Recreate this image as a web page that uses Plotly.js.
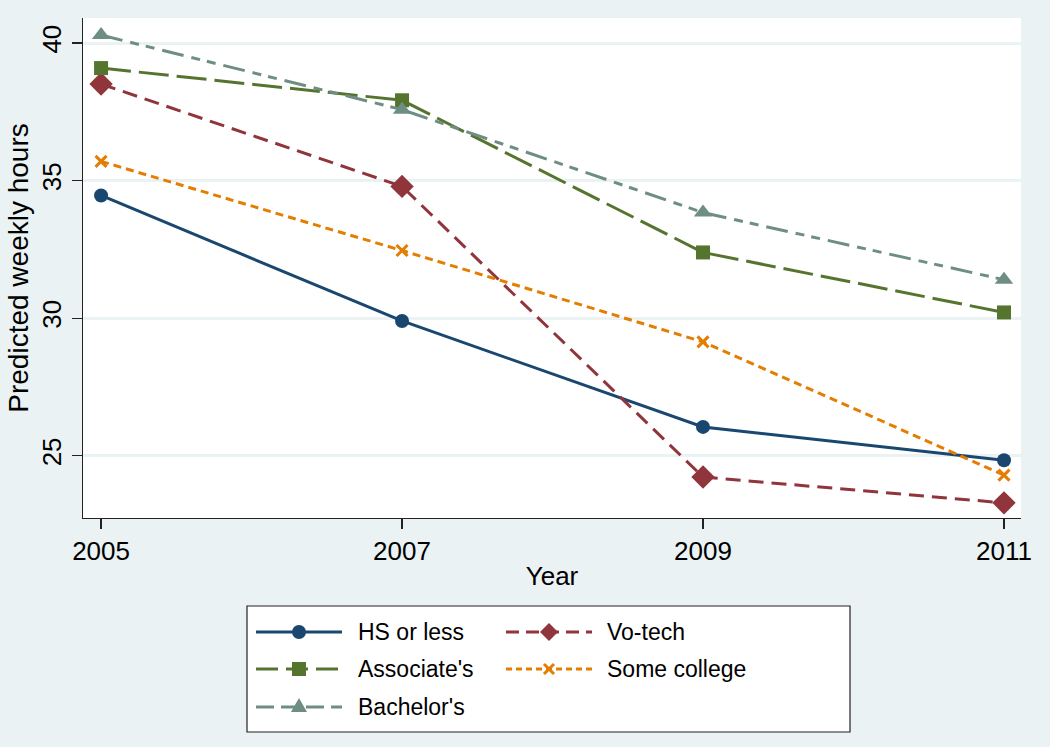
<!DOCTYPE html>
<html>
<head>
<meta charset="utf-8">
<script src="https://cdn.plot.ly/plotly-3.0.1.min.js"></script>
<style>html,body{margin:0;padding:0;background:#EAF2F3;}#chart{width:1050px;height:747px;}</style>
</head>
<body>
<div id="chart"></div>
<script>
const years = [2005, 2007, 2009, 2011];
const seriesNames = ["HS or less", "Vo-tech", "Associate's", "Some college", "Bachelor's"];
const hsOrLess = [34.46, 29.90, 26.05, 24.84];
const voTech = [38.51, 34.79, 24.23, 23.29];
const associates = [39.09, 37.92, 32.39, 30.21];
const someCollege = [35.70, 32.46, 29.14, 24.30];
const bachelors = [40.29, 37.58, 33.84, 31.40];
const yTicks = [25, 30, 35, 40];

const colors = ["#1a476f", "#90353b", "#55752f", "#e37e00", "#6e8e84"];
const dashes = ["solid", "15px,8px", "30px,8px", "8px,5px", "22px,8px,9px,7px,9px,8px"];
const values = [hsOrLess, voTech, associates, someCollege, bachelors];
const symbols = ["circle", "diamond", "square", "x-thin", "triangle-up"];
const sizes = [14, 18, 14, 11, 16];

const traces = values.map((v, i) => ({
  x: years, y: v, type: "scatter", mode: "lines+markers", name: seriesNames[i],
  showlegend: false,
  line: {color: colors[i], width: 3, dash: dashes[i]},
  marker: symbols[i] === "x-thin"
    ? {symbol: "x-thin", size: sizes[i], color: colors[i], line: {color: colors[i], width: 3}}
    : {symbol: symbols[i], size: sizes[i], color: colors[i], line: {width: 0}}
}));

// plot area geometry (pixels)
const L = 83, R = 29, T = 18, B = 229, W = 1050, H = 747;
const PW = W - L - R, PH = H - T - B;
const px = x => (x - L) / PW;
const py = y => (H - B - y) / PH;

const shapes = [];
const annotations = [];
// legend box
shapes.push({type: "rect", xref: "paper", yref: "paper", x0: px(247), x1: px(850), y0: py(606), y1: py(732),
  fillcolor: "white", line: {color: "#222", width: 1.2}, layer: "above"});
const legendPos = [
  {row: 632, lx0: 256, lx1: 342, mx: 299, tx: 356},
  {row: 632, lx0: 506, lx1: 592, mx: 549, tx: 605},
  {row: 669, lx0: 256, lx1: 342, mx: 299, tx: 356},
  {row: 669, lx0: 506, lx1: 592, mx: 549, tx: 605},
  {row: 707, lx0: 256, lx1: 342, mx: 299, tx: 356}
];
const legendDashes = ["solid", "13px,7px", "22px,8px", "6px,4px", "18px,7px"];
const markerPaths = {
  "square": "M-7,-7L7,-7L7,7L-7,7Z",
  "diamond": "M0,-9L9,0L0,9L-9,0Z",
  "triangle-up": "M-8,-5L8,-5L0,9Z",
  "x-thin": "M-5,-5L5,5M-5,5L5,-5"
};
values.forEach((v, i) => {
  const p = legendPos[i];
  shapes.push({type: "line", xref: "paper", yref: "paper", x0: px(p.lx0), x1: px(p.lx1), y0: py(p.row), y1: py(p.row),
    line: {color: colors[i], width: 3, dash: legendDashes[i]}, layer: "above"});
  const sym = symbols[i];
  if (sym === "circle") {
    shapes.push({type: "circle", xref: "paper", yref: "paper", xsizemode: "pixel", ysizemode: "pixel",
      xanchor: px(p.mx), yanchor: py(p.row), x0: -7, x1: 7, y0: -7, y1: 7,
      fillcolor: colors[i], line: {width: 0}, layer: "above"});
  } else if (sym === "x-thin") {
    shapes.push({type: "path", xref: "paper", yref: "paper", xsizemode: "pixel", ysizemode: "pixel",
      xanchor: px(p.mx), yanchor: py(p.row), path: markerPaths[sym],
      line: {color: colors[i], width: 3}, layer: "above"});
  } else {
    shapes.push({type: "path", xref: "paper", yref: "paper", xsizemode: "pixel", ysizemode: "pixel",
      xanchor: px(p.mx), yanchor: py(p.row), path: markerPaths[sym],
      fillcolor: colors[i], line: {width: 0}, layer: "above"});
  }
  annotations.push({xref: "paper", yref: "paper", x: px(p.tx), y: py(p.row), xanchor: "left", yanchor: "middle",
    text: seriesNames[i], showarrow: false, font: {family: "Liberation Sans, Arial, sans-serif", size: 23, color: "#000"}});
});

const layout = {
  width: W, height: H,
  paper_bgcolor: "#EAF2F3", plot_bgcolor: "#FFFFFF",
  margin: {l: L, r: R, t: T, b: B, pad: 0},
  font: {family: "Liberation Sans, Arial, sans-serif", color: "#000"},
  showlegend: false,
  xaxis: {
    range: [2004.88, 2011.113], tickvals: years, ticktext: years.map(String),
    showgrid: false, zeroline: false, showline: true, linecolor: "#222", linewidth: 1.2,
    ticks: "outside", ticklen: 10, tickwidth: 1.2, tickcolor: "#222",
    tickfont: {size: 26, color: "#000"},
    title: {text: "Year", font: {size: 26, color: "#000"}, standoff: 1}
  },
  yaxis: {
    range: [22.74, 40.91], tickvals: yTicks, ticktext: yTicks.map(String),
    tickangle: -90,
    showgrid: true, gridcolor: "#EAF2F3", gridwidth: 3, zeroline: false,
    showline: true, linecolor: "#222", linewidth: 1.2,
    ticks: "outside", ticklen: 10, tickwidth: 1.2, tickcolor: "#222",
    tickfont: {size: 26, color: "#000"},
    title: {text: "Predicted weekly hours", font: {size: 28, color: "#000"}, standoff: 0}
  },
  shapes: shapes,
  annotations: annotations
};

Plotly.newPlot("chart", traces, layout, {displayModeBar: false, staticPlot: true});
</script>
</body>
</html>
